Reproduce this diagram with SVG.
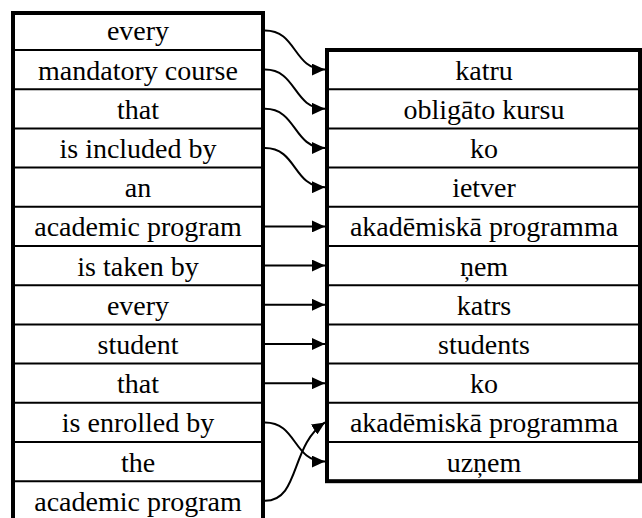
<svg xmlns="http://www.w3.org/2000/svg" width="642" height="518" viewBox="0 0 642 518">
<defs>
<style type="text/css">
.box{fill:#fff;stroke:#000;stroke-width:4}
.sep{stroke:#000;stroke-width:2}
text{font-family:"Liberation Serif","Times New Roman",serif;font-size:28px;fill:#000;text-anchor:middle}
.c{fill:none;stroke:#000;stroke-width:2;marker-end:url(#ah)}
</style>
<marker id="ah" markerUnits="userSpaceOnUse" viewBox="0 0 13 12" refX="13" refY="6" markerWidth="13" markerHeight="12" orient="auto">
<path d="M0,0 L13,6 L0,12 z" fill="#000"/>
</marker>
</defs>
<rect width="642" height="518" fill="#fff"/>
<g id="english">
<rect class="box" x="13" y="13" width="250" height="508"/>
<g class="sep">
<line x1="13" y1="50" x2="263" y2="50"/>
<line x1="13" y1="89.2" x2="263" y2="89.2"/>
<line x1="13" y1="128.4" x2="263" y2="128.4"/>
<line x1="13" y1="167.6" x2="263" y2="167.6"/>
<line x1="13" y1="206.8" x2="263" y2="206.8"/>
<line x1="13" y1="246" x2="263" y2="246"/>
<line x1="13" y1="285.2" x2="263" y2="285.2"/>
<line x1="13" y1="324.4" x2="263" y2="324.4"/>
<line x1="13" y1="363.6" x2="263" y2="363.6"/>
<line x1="13" y1="402.8" x2="263" y2="402.8"/>
<line x1="13" y1="442" x2="263" y2="442"/>
<line x1="13" y1="481.2" x2="263" y2="481.2"/>
</g>
<text x="138" y="40.4">every</text>
<text x="138" y="79.6">mandatory course</text>
<text x="138" y="118.8">that</text>
<text x="138" y="158">is included by</text>
<text x="138" y="197.2">an</text>
<text x="138" y="236.4">academic program</text>
<text x="138" y="275.6">is taken by</text>
<text x="138" y="314.8">every</text>
<text x="138" y="354">student</text>
<text x="138" y="393.2">that</text>
<text x="138" y="432.4">is enrolled by</text>
<text x="138" y="471.6">the</text>
<text x="138" y="510.8">academic program</text>
</g>
<g id="latvian">
<rect class="box" x="327" y="50" width="313" height="431.2"/>
<g class="sep">
<line x1="327" y1="89.2" x2="640" y2="89.2"/>
<line x1="327" y1="128.4" x2="640" y2="128.4"/>
<line x1="327" y1="167.6" x2="640" y2="167.6"/>
<line x1="327" y1="206.8" x2="640" y2="206.8"/>
<line x1="327" y1="246" x2="640" y2="246"/>
<line x1="327" y1="285.2" x2="640" y2="285.2"/>
<line x1="327" y1="324.4" x2="640" y2="324.4"/>
<line x1="327" y1="363.6" x2="640" y2="363.6"/>
<line x1="327" y1="402.8" x2="640" y2="402.8"/>
<line x1="327" y1="442" x2="640" y2="442"/>
</g>
<text x="484" y="79.6">katru</text>
<text x="484" y="118.8">obligāto kursu</text>
<text x="484" y="158">ko</text>
<text x="484" y="197.2">ietver</text>
<text x="484" y="236.4">akadēmiskā programma</text>
<text x="484" y="275.6">ņem</text>
<text x="484" y="314.8">katrs</text>
<text x="484" y="354">students</text>
<text x="484" y="393.2">ko</text>
<text x="484" y="432.4">akadēmiskā programma</text>
<text x="484" y="471.6">uzņem</text>
</g>
<g id="connectors">
<path class="c" d="M265,30.4 C297,30.4 293,69.6 325,69.6"/>
<path class="c" d="M265,69.6 C297,69.6 293,108.8 325,108.8"/>
<path class="c" d="M265,108.8 C297,108.8 293,148 325,148"/>
<path class="c" d="M265,148 C297,148 293,187.2 325,187.2"/>
<path class="c" d="M265,226.4 L325,226.4"/>
<path class="c" d="M265,265.6 L325,265.6"/>
<path class="c" d="M265,304.8 L325,304.8"/>
<path class="c" d="M265,344 L325,344"/>
<path class="c" d="M265,383.2 L325,383.2"/>
<path class="c" d="M265,422.4 C297,422.4 293,461.6 325,461.6"/>
<path class="c" d="M265,500.8 C300,500.8 290,445 325,422.4"/>
</g>
</svg>
